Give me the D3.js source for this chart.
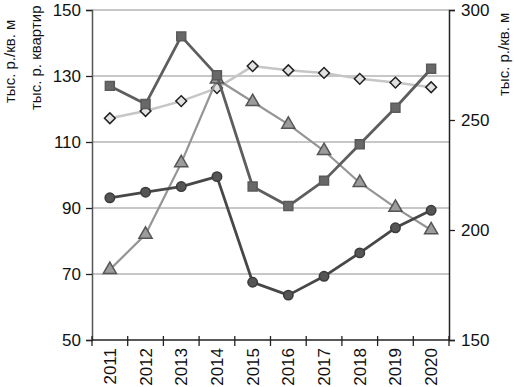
<!DOCTYPE html>
<html>
<head>
<meta charset="utf-8">
<script src="https://cdn.jsdelivr.net/npm/d3@7"></script>
<style>
  body { margin: 0; background: #fff; }
  svg { display: block; font-family: "Liberation Sans", Arial, sans-serif; }
</style>
</head>
<body>
<div id="chart"></div>
<script>
// categories
const years = ['2011', '2012', '2013', '2014', '2015', '2016', '2017', '2018', '2019', '2020'];

// left axis series (тыс. р. квартир)
const squareValues = [127, 121.5, 142, 130.2, 96.5, 90.6, 98.3, 109.3, 120.4, 132.2];
const circleValues = [93.1, 94.8, 96.5, 99.5, 67.5, 63.6, 69.3, 76.4, 84.0, 89.3];

// right axis series (тыс. р./кв. м)
const triangleValues = [182, 198, 230.5, 268.5, 258.3, 248, 236, 221.5, 210.2, 200];
const diamondValues = [250.8, 254.1, 258.6, 264.5, 274.5, 272.6, 271.4, 268.7, 267, 264.9];

// tick labels
const leftTicks = [50, 70, 90, 110, 130, 150];
const rightTicks = [150, 200, 250, 300];

const width = 514, height = 387;
const margin = { top: 10, right: 65, bottom: 47, left: 92 };
const boundedWidth = width - margin.left - margin.right;
const boundedHeight = height - margin.top - margin.bottom;

const svg = d3.select('#chart').append('svg')
    .attr('width', width)
    .attr('height', height);

const viz = svg.append('g')
    .attr('transform', `translate(${margin.left},${margin.top})`);

// scales
const xScale = d3.scaleBand().domain(years).range([0, boundedWidth]);
const yLeft = d3.scaleLinear().domain([50, 150]).range([boundedHeight, 0]);
const yRight = d3.scaleLinear().domain([150, 300]).range([boundedHeight, 0]);
const cx = d => xScale(d) + xScale.bandwidth() / 2;

// gridlines
viz.append('g')
    .selectAll('line')
    .data(leftTicks.slice(1))
    .join('line')
    .attr('x1', 0)
    .attr('x2', boundedWidth)
    .attr('y1', d => yLeft(d))
    .attr('y2', d => yLeft(d))
    .attr('stroke', '#8f8f8f')
    .attr('stroke-width', 1.2);

// axes
const leftAxisG = viz.append('g')
    .call(d3.axisLeft(yLeft).tickValues(leftTicks).tickSize(6).tickPadding(5));
const rightAxisG = viz.append('g')
    .attr('transform', `translate(${boundedWidth},0)`)
    .call(d3.axisRight(yRight).tickValues(rightTicks).tickSize(6).tickPadding(6));

[leftAxisG, rightAxisG].forEach(g => {
    g.select('.domain').attr('stroke', '#222').attr('stroke-width', 1.5);
    g.selectAll('.tick line').attr('stroke', '#222').attr('stroke-width', 1.3);
    g.selectAll('.tick text')
        .attr('fill', '#111')
        .style('font-size', '17px')
        .style('font-family', '"Liberation Sans", Arial, sans-serif');
});
leftAxisG.select('.domain').attr('stroke', '#555');

// x axis
const xAxisG = viz.append('g')
    .attr('transform', `translate(0,${boundedHeight})`);
xAxisG.append('line')
    .attr('x1', 0).attr('x2', boundedWidth)
    .attr('stroke', '#222').attr('stroke-width', 1.5);
xAxisG.selectAll('.xtick')
    .data(years.concat(['end']))
    .join('line')
    .attr('class', 'xtick')
    .attr('x1', (d, i) => i < years.length ? xScale(d) : boundedWidth)
    .attr('x2', (d, i) => i < years.length ? xScale(d) : boundedWidth)
    .attr('y1', -4)
    .attr('y2', 6)
    .attr('stroke', '#222')
    .attr('stroke-width', 1.3);
xAxisG.selectAll('.xlabel')
    .data(years)
    .join('text')
    .attr('class', 'xlabel')
    .attr('transform', d => `translate(${cx(d) + 6},8)rotate(-90)`)
    .attr('text-anchor', 'end')
    .attr('fill', '#111')
    .style('font-size', '17px')
    .text(d => d);

// series
const series = [
    { values: diamondValues, scale: yRight, line: '#c6c6c6', lw: 2.5, symbol: d3.symbolSquare, size: 58, fill: '#e2e2e2', stroke: '#222', rot: 45 },
    { values: triangleValues, scale: yRight, line: '#959595', lw: 2.2, symbol: d3.symbolTriangle, size: 75, fill: '#9c9c9c', stroke: '#555', rot: 0 },
    { values: circleValues, scale: yLeft, line: '#474747', lw: 2.8, symbol: d3.symbolCircle, size: 70, fill: '#555', stroke: '#3a3a3a', rot: 0 },
    { values: squareValues, scale: yLeft, line: '#5e5e5e', lw: 2.8, symbol: d3.symbolSquare, size: 80, fill: '#686868', stroke: '#5a5a5a', rot: 0 }
];

series.forEach(s => {
    const pts = years.map((y, i) => [cx(y), s.scale(s.values[i])]);
    viz.append('path')
        .attr('d', d3.line()(pts))
        .attr('fill', 'none')
        .attr('stroke', s.line)
        .attr('stroke-width', s.lw)
        .attr('stroke-linejoin', 'round');
    viz.append('g')
        .selectAll('path')
        .data(pts)
        .join('path')
        .attr('transform', d => `translate(${d[0]},${d[1]})rotate(${s.rot})`)
        .attr('d', d3.symbol().type(s.symbol).size(s.size))
        .attr('fill', s.fill)
        .attr('stroke', s.stroke)
        .attr('stroke-width', 1.5);
});

// axis titles
const titles = [
    { text: 'тыс. р./кв. м', x: 15, y: 103 },
    { text: 'тыс. р. квартир', x: 41, y: 110 },
    { text: 'тыс. р./кв. м', x: 509, y: 96 }
];
svg.selectAll('.title')
    .data(titles)
    .join('text')
    .attr('class', 'title')
    .attr('transform', d => `translate(${d.x},${d.y})rotate(-90)`)
    .attr('fill', '#111')
    .style('font-size', '15px')
    .text(d => d.text);
</script>
</body>
</html>
